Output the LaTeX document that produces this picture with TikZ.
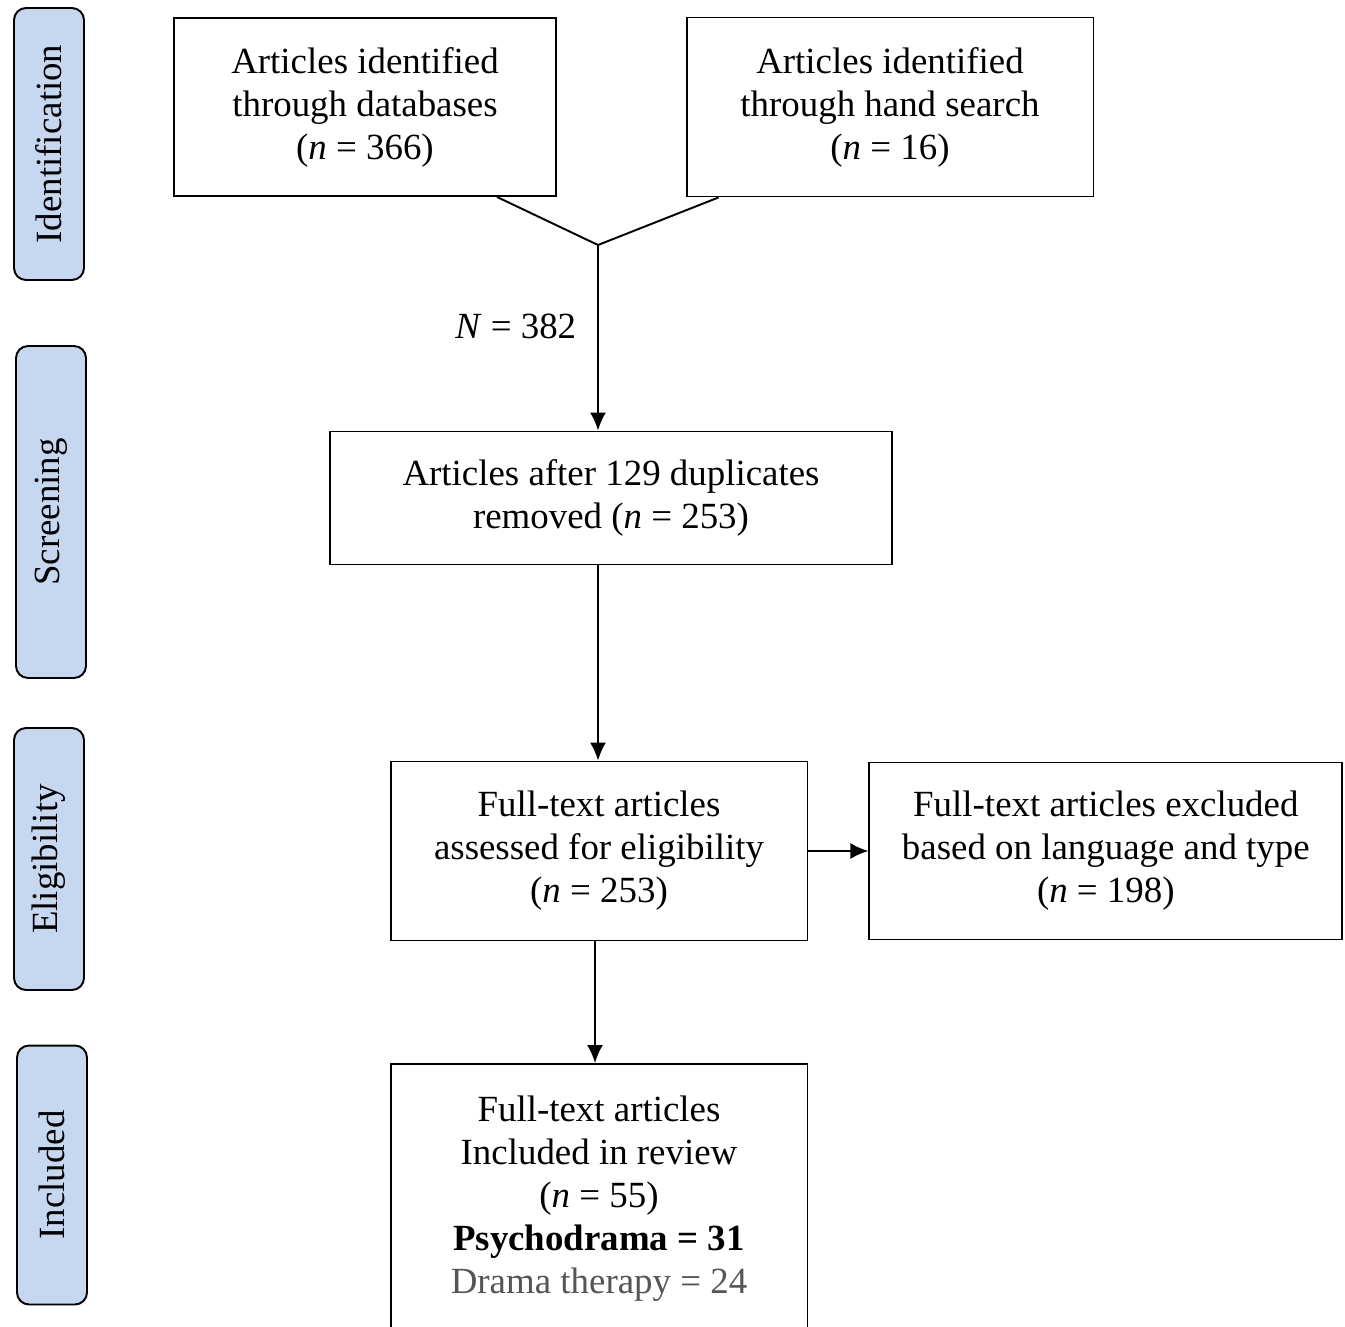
\documentclass[tikz,border=0pt]{standalone}
\usepackage{fontspec}
\setmainfont{Liberation Serif}
\usepackage{tikz}
\usetikzlibrary{arrows.meta,positioning}
\definecolor{phaseblue}{RGB}{198,216,240}
\definecolor{darkgray}{RGB}{85,85,85}

\begin{document}
\begin{tikzpicture}[x=0.02cm, y=-0.02cm,
        font=\fontsize{21}{24.5}\selectfont,
        stepbox/.style={draw, line width=1.1pt, align=center, inner sep=2pt},
        phase/.style={draw, line width=1.1pt, rounded corners=0.24cm, fill=phaseblue, rotate=90, minimum height=1.4cm, inner sep=0pt},
        arr/.style={-{Latex[length=0.36cm, width=0.32cm]}, line width=1.1pt}]
        \useasboundingbox (0,0) rectangle (1345,1327);
        \clip (0,0) rectangle (1345,1327);

        \node (ident) [phase, minimum width=5.44cm] at (49,144) {Identification};
        \node (screen) [phase, minimum width=6.64cm] at (51,512) {Screening};
        \node (elig) [phase, minimum width=5.24cm] at (49,859) {Eligibility};
        \node (incd) [phase, minimum width=5.18cm] at (52,1175) {Included};

        \node (db) [stepbox, minimum width=7.64cm, minimum height=3.56cm] at (365,107) {Articles identified\\through databases\\(\textit{n} = 366)};
        \node (hand) [stepbox, minimum width=8.14cm, minimum height=3.58cm] at (890,107) {Articles identified\\through hand search\\(\textit{n} = 16)};
        \coordinate (merge) at (598,245);
        \node (dup) [stepbox, minimum width=11.26cm, minimum height=2.66cm] at (611,498) {Articles after 129 duplicates\\removed (\textit{n} = 253)};
        \node (full) [stepbox, minimum width=8.34cm, minimum height=3.58cm] at (599,851) {Full-text articles\\assessed for eligibility\\(\textit{n} = 253)};
        \node (excl) [stepbox, minimum width=9.46cm, minimum height=3.54cm, right=1.2cm of full] {Full-text articles excluded\\based on language and type\\(\textit{n} = 198)};
        \node (incl) [stepbox, minimum width=8.34cm, minimum height=5.4cm, anchor=north] at (599,1063) {Full-text articles\\Included in review\\(\textit{n} = 55)\\\textbf{Psychodrama = 31}\\\textcolor{darkgray}{Drama therapy = 24}};

        \draw[line width=1.1pt] ([xshift=-1.2cm]db.south east) -- (merge) -- ([xshift=0.66cm]hand.south west);
        \draw[arr] (merge) -- node (nlab) [pos=0.44, left=0.3cm] {\textit{N} = 382} (merge |- dup.north);
        \draw[arr] (merge |- dup.south) -- (merge |- full.north);
        \draw[arr] ([xshift=-0.08cm]full.south) -- ([xshift=-0.08cm]incl.north);
        \draw[arr] (full.east) -- (excl.west);
    \end{tikzpicture}
\end{document}
